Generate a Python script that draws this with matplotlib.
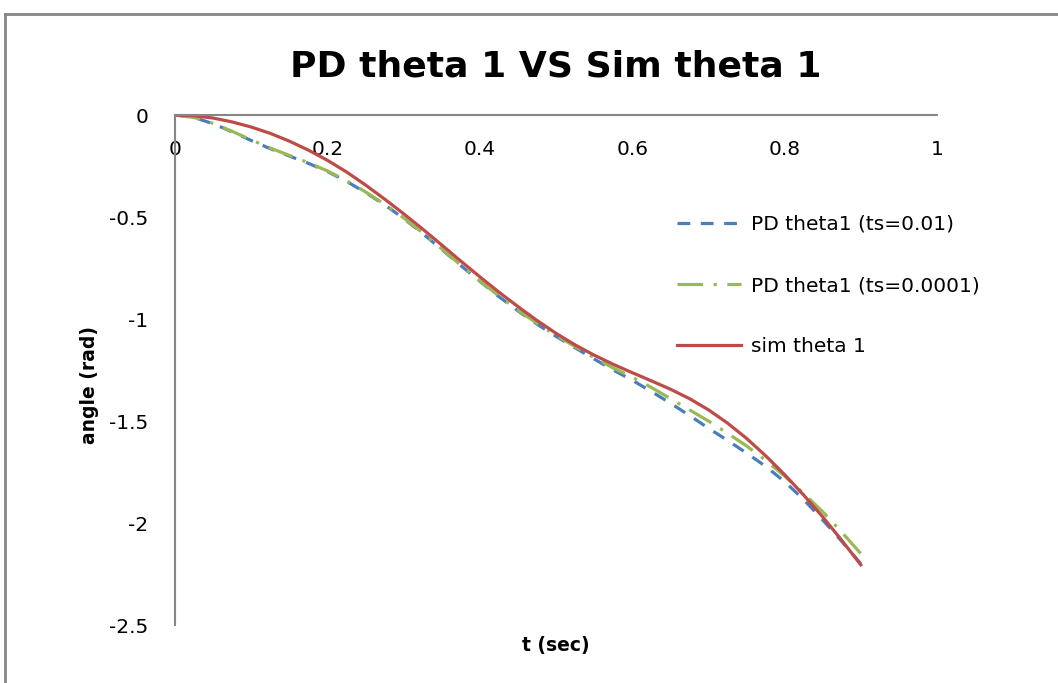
import matplotlib
matplotlib.use("Agg")
import matplotlib.pyplot as plt
from matplotlib.lines import Line2D

plt.rcParams["font.family"] = ["DejaVu Sans"]
plt.rcParams["axes.unicode_minus"] = False

# data
t = [0.0, 0.025, 0.05, 0.075, 0.1, 0.125, 0.15, 0.175, 0.2, 0.225,
     0.25, 0.275, 0.3, 0.325, 0.35, 0.375, 0.4, 0.425, 0.45, 0.475,
     0.5, 0.525, 0.55, 0.575, 0.6, 0.625, 0.65, 0.675, 0.7, 0.725,
     0.75, 0.775, 0.8, 0.825, 0.85, 0.875, 0.9]
pd_ts001 = [0.0, -0.0125, -0.0425, -0.0825, -0.125, -0.165, -0.201, -0.237, -0.277, -0.325,
            -0.38, -0.44, -0.507, -0.581, -0.659, -0.738, -0.815, -0.89, -0.96, -1.025,
            -1.085, -1.141, -1.196, -1.25, -1.30, -1.355, -1.4125, -1.4725, -1.535, -1.595,
            -1.657, -1.722, -1.797, -1.885, -1.985, -2.09, -2.20]
pd_ts00001 = [0.0, -0.012, -0.041, -0.08, -0.122, -0.162, -0.198, -0.234, -0.274, -0.322,
              -0.377, -0.437, -0.504, -0.578, -0.656, -0.736, -0.813, -0.887, -0.957, -1.021,
              -1.08, -1.135, -1.189, -1.24, -1.285, -1.335, -1.39, -1.445, -1.50, -1.56,
              -1.622, -1.692, -1.77, -1.855, -1.945, -2.045, -2.15]
sim = [0.0, -0.004, -0.015, -0.034, -0.059, -0.09, -0.128, -0.172, -0.222, -0.279,
       -0.343, -0.412, -0.484, -0.559, -0.637, -0.716, -0.793, -0.868, -0.939, -1.007,
       -1.07, -1.127, -1.177, -1.222, -1.263, -1.303, -1.344, -1.39, -1.445, -1.51,
       -1.585, -1.67, -1.763, -1.863, -1.97, -2.085, -2.205]

labels = ["PD theta1 (ts=0.01)", "PD theta1 (ts=0.0001)", "sim theta 1"]
xticks = [0, 0.2, 0.4, 0.6, 0.8, 1]
yticks = [0, -0.5, -1, -1.5, -2, -2.5]

W, H = 1058, 683
fig = plt.figure(figsize=(W / 100, H / 100), dpi=100)
ax = fig.add_axes([175 / W, 1 - 625 / H, (937 - 175) / W, (625 - 115) / H])

grey = "#868686"
blue = "#4a7ebb"
green = "#98b954"
red = "#be4b48"

ax.plot(t, pd_ts001, color=blue, lw=2.3, dashes=(4, 3.3), label=labels[0])
ax.plot(t, pd_ts00001, color=green, lw=2.3, dashes=(8, 3.3, 1, 3.3), label=labels[1])
ax.plot(t, sim, color=red, lw=2.3, label=labels[2])

ax.set_xlim(0, 1)
ax.set_ylim(-2.5, 0)
ax.spines["right"].set_visible(False)
ax.spines["top"].set_visible(False)
ax.spines["bottom"].set_position(("data", 0))
for s in ["left", "bottom"]:
    ax.spines[s].set_color(grey)
    ax.spines[s].set_linewidth(1.5)

ax.set_xticks(xticks)
ax.set_xticklabels([f"{v:g}" for v in xticks])
ax.set_yticks(yticks)
ax.set_yticklabels([f"{v:g}" for v in yticks])
ax.tick_params(axis="x", length=0, labelsize=14.5, pad=18)
ax.tick_params(axis="y", length=0, labelsize=14.5, pad=19)

ax.set_title("PD theta 1 VS Sim theta 1", fontsize=26, fontweight="bold", pad=28)
ax.set_xlabel("t (sec)", fontsize=13.5, fontweight="bold")
ax.set_ylabel("angle (rad)", fontsize=13.5, fontweight="bold")
ax.xaxis.set_label_coords(0.5, -0.021)
ax.yaxis.set_label_coords(-0.1, 0.47)

ax.legend(loc="upper left", bbox_to_anchor=(0.648, 0.82), frameon=False,
          fontsize=14.5, handlelength=3.2, labelspacing=2.1, handletextpad=0.5,
          borderaxespad=0)

# outer chart frame
fig.add_artist(Line2D([5 / W, 5 / W], [0, 1 - 14 / H], color=grey, lw=2))
fig.add_artist(Line2D([5 / W, 1], [1 - 14 / H, 1 - 14 / H], color=grey, lw=2))

fig.savefig("out.png", dpi=100)
